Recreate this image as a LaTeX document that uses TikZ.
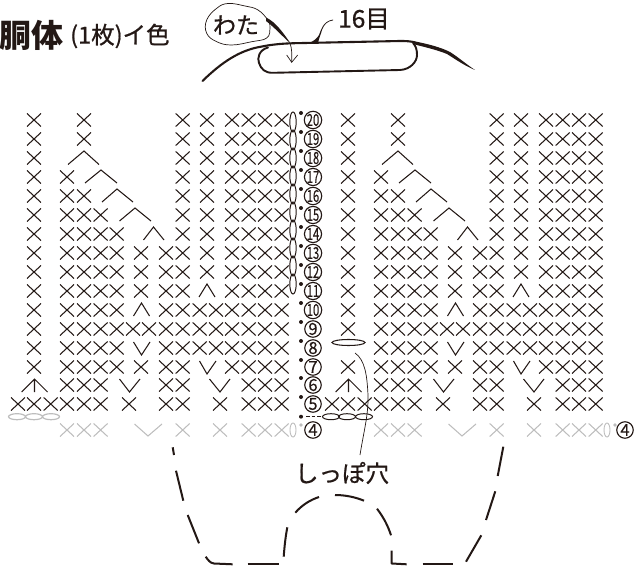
\documentclass[tikz,border=0pt]{standalone}
\usepackage{fontspec}
\newfontfamily\jp{Noto Sans CJK JP}
\newfontfamily\jpm[FakeBold=0.8]{Noto Sans CJK JP}
\newfontfamily\jpn[FakeBold=0.4]{Noto Sans CJK JP}
\definecolor{ink}{HTML}{231815}
\definecolor{fade}{HTML}{BDBDBD}
\tikzset{
  st/.style={draw=ink,line width=1.05pt},
  gst/.style={draw=fade,line width=1.05pt},
  hump/.style={draw=ink,line width=2.1pt,line cap=round,line join=round},
  dashpiece/.style={draw=ink,line width=2pt,line join=round},
  num/.style={circle,draw=ink,line width=1.15pt,minimum size=16.5pt,inner sep=0pt,font=\jpn\fontsize{16.5}{16.5}\selectfont,text=ink},
  lab/.style={inner sep=0pt,text=ink},
  thin/.style={draw=ink,line width=0.7pt},
}
\newcommand{\Xrow}[3][st]{\foreach \px in {#3} {\draw[#1] (\px-7,#2-6.5) -- (\px+7,#2+6.5) (\px-7,#2+6.5) -- (\px+7,#2-6.5);}}
\newcommand{\nar}[1]{\scalebox{0.68}[1]{#1}}
\begin{document}
\begin{tikzpicture}[x=1pt,y=-1pt]
\useasboundingbox (0,0) rectangle (634,569);
% titles
\node[lab,font=\jp\bfseries\fontsize{32}{32}\selectfont,anchor=west] (title) at (-1,35) {胴体};
\node[lab,font=\jpm\fontsize{23.5}{23.5}\selectfont,anchor=west] (sub) at (70,36) {(1枚)イ色};
\node[lab,font=\jpm\fontsize{23}{23}\selectfont] (wata) at (236,25) {わた};
\node[lab,font=\jpm\fontsize{24.5}{24.5}\selectfont] (me) at (364,19) {16目};
\node[lab,font=\jpm\fontsize{23.5}{23.5}\selectfont] (hole) at (342,473) {しっぽ穴};
% blob round wata
\draw[thin] plot[smooth cycle,tension=0.7] coordinates {(267.7,20) (258,10) (245,6) (228,3.5) (216.7,8.3) (206.7,20) (206.7,33.3) (216.7,41.7) (231.7,45) (251.7,41.7) (266.7,38) (270,28)};
\fill[ink] (266,17.5) .. controls (276,22) and (284,34) .. (291,44) .. controls (282,36) and (274,27) .. (266,21) -- cycle;
% thin arrow
\draw[thin] (290,43) .. controls (292,49) and (292,55) .. (291.7,62);
\draw[thin] (286.7,55) -- (291.7,62.3) -- (297.7,55);
% hump and pocket
\draw[hump] (202.5,81) .. controls (222,62) and (240,50) .. (262,46.5) .. controls (272,44.5) and (282,43.5) .. (295,43.2) -- (400,41) .. controls (406,41) and (411,41.2) .. (415,42.5);
\fill[ink] (413,41) .. controls (428,44) and (440,47) .. (450,52) .. controls (458,57) and (466,64) .. (475,70) .. controls (465,66) and (455,59) .. (447,54) .. controls (436,49.5) and (424,47) .. (413,44) -- cycle;
\draw[hump,line width=1.9pt] (268,47.5) .. controls (259,50) and (257,58) .. (259,63) .. controls (261,69) and (265,73) .. (273,72.8) -- (400,70) .. controls (410,69.5) and (417,62) .. (417,55) .. controls (417,50) and (416,46) .. (413,43);
% 16-moku leader
\fill[ink] (333,19.6) .. controls (323,21) and (321,30) .. (319,35) .. controls (317,38.5) and (314,41) .. (309,43) -- (318,43) .. controls (319,38) and (321,34) .. (322,30) .. controls (324,24) and (328,21) .. (333,20.4) -- cycle;
% rows
\foreach \ox in {0,314} {
\begin{scope}[xshift=\ox pt]
\Xrow{120}{34,84,182.7,207,232,248.7,265,281.7}
\Xrow{139}{34,84,182.7,207,232,248.7,265,281.7}
\Xrow{158}{34,182.7,207,232,248.7,265,281.7}
\Xrow{177}{34,67,182.7,207,232,248.7,265,281.7}
\Xrow{196}{34,67,84,182.7,207,232,248.7,265,281.7}
\Xrow{215}{34,67,84,100.6,182.7,207,232,248.7,265,281.7}
\Xrow{234}{34,67,84,100.6,116.7,182.7,207,232,248.7,265,281.7}
\Xrow{253}{34,67,84,100.6,116.7,141,166,182.7,207,232,248.7,265,281.7}
\Xrow{272}{34,67,84,100.6,116.7,141,166,182.7,207,232,248.7,265,281.7}
\Xrow{291}{34,67,84,100.6,116.7,141,166,182.7,232,248.7,265,281.7}
\Xrow{310}{34,67,84,100.6,116.7,166,182.7,199.7,216,232,248.7,265,281.7}
\Xrow{329}{34,67,84,100.6,116.7,133,149,166,182.7,199.7,216,232,248.7,265,281.7}
\Xrow{348}{67,84,100.6,116.7,166,182.7,199.7,216,232,248.7,265,281.7}
\Xrow{367}{34,67,84,100.6,116.7,141,166,182.7,232,248.7,265,281.7}
\Xrow{385}{67,84,100.6,166,182.7,248.7,265,281.7}
\Xrow{404}{18,34,50.7,67,84,100.6,129,166,182.7,220,248.7,265,281.7}
\Xrow[gst]{430}{67,84,100.6,182.7,220,248.7,265,281.7}
% decreases
\draw[st] (68,164.5) -- (84,151) -- (99,164.5);
\draw[st] (85,183) -- (101,170) -- (117,183);
\draw[st] (102,202) -- (117,189) -- (133,202);
\draw[st] (119.5,221) -- (135,208) -- (151,221);
\draw[st] (143.5,240) -- (153.5,227) -- (164,240);
\draw[st] (199,297) -- (207,284) -- (215,297);
\draw[st] (133.5,316) -- (141.5,303) -- (149.5,316);
% increases
\draw[st] (133.5,342) -- (141.5,355) -- (150,342);
\draw[st] (199.5,361) -- (207,374) -- (216,361);
\draw[st] (119.5,379) -- (129.5,392) -- (140,379);
\draw[st] (209.5,379) -- (220,392) -- (230,379);
\draw[st] (21.7,392) -- (34.5,379) -- (47.5,392) (34.5,379) -- (34.5,392);
\draw[gst] (134.5,424) -- (148,436) -- (162,424);
% gray chain + slip dot on row 4
\draw[fade,line width=0.9pt] (293,430) ellipse [x radius=3,y radius=7];
\fill[fade] (301,425) circle [radius=1.8];
\end{scope}
}
% left edge X on row 8 (left half only)
\Xrow{348}{34}
% right-hand oval and leader
\draw[st] (348.5,342.5) ellipse [x radius=16.5,y radius=3];
\draw[thin] (355,353) .. controls (365,360) and (367,375) .. (368,395) .. controls (368.5,415) and (364,430) .. (360,455);
% vertical chain
\foreach \yy in {122,140,158,176,194,212,230,248,266,284} {\draw[draw=ink,line width=1pt] (293,\yy) ellipse [x radius=3.2,y radius=10];}
% slip dots
\foreach \yy in {113,132,151,170,189,208,227,246,265,284,303,322,341,360,378,397,416.7} {\fill[ink] (301,\yy) circle [radius=2];}
% joined chain under row 5
\draw[st,dash pattern=on 3.5pt off 2pt] (306,416.5) -- (321,416.5);
\foreach \xx in {331,347,364} {\draw[draw=ink,line width=1pt] (\xx,416.7) ellipse [x radius=8.5,y radius=3];}
\foreach \xx in {17,34,51} {\draw[draw=fade,line width=1.2pt] (\xx,416.7) ellipse [x radius=8.5,y radius=3];}
% row numbers
\node[num] (n20) at (313,120) {\nar{20}};
\node[num] (n19) at (313,139) {\nar{19}};
\node[num] (n18) at (313,158) {\nar{18}};
\node[num] (n17) at (313,177) {\nar{17}};
\node[num] (n16) at (313,196) {\nar{16}};
\node[num] (n15) at (313,215) {\nar{15}};
\node[num] (n14) at (313,234) {\nar{14}};
\node[num] (n13) at (313,253) {\nar{13}};
\node[num] (n12) at (313,272) {\nar{12}};
\node[num] (n11) at (313,291) {\nar{11}};
\node[num] (n10) at (313,310) {\nar{10}};
\node[num] (n9) at (313,329) {9};
\node[num] (n8) at (313,348) {8};
\node[num] (n7) at (313,367) {7};
\node[num] (n6) at (313,385) {6};
\node[num] (n5) at (313,404) {5};
\node[num] (n4) at (313,430) {4};
\node[num] (n4b) at (625,430) {4};
% dashed body outline
\draw[dashpiece] (172.7,447.3) -- (174,455);
\draw[dashpiece] (176,470.7) -- (183.3,500.7);
\draw[dashpiece] (187.7,515) -- (199,543.3);
\draw[dashpiece] (205.7,556.7) .. controls (208,560) and (210,563) .. (214,563.5) -- (232.7,564.3);
\draw[dashpiece] (247.7,564.3) -- (279,564.3);
\draw[dashpiece] (283.7,556.7) .. controls (284.5,546) and (285.5,537) .. (287.3,527.3);
\draw[dashpiece] (295.3,512.7) .. controls (302,505) and (310,500) .. (319,497);
\draw[dashpiece] (335,495) .. controls (345,495) and (355,497) .. (364,500.7);
\draw[dashpiece] (377,508.7) .. controls (384,518) and (388,526) .. (391,535.3);
\draw[dashpiece] (391.7,550.7) -- (391.7,563.5) -- (406.7,564.3);
\draw[dashpiece] (422.7,564.3) -- (452.7,564.3);
\draw[dashpiece] (466,561.7) -- (481.3,535.3);
\draw[dashpiece] (486,520) -- (495.3,491.3);
\draw[dashpiece] (497.7,476) -- (503.3,446.7);
\end{tikzpicture}
\end{document}
